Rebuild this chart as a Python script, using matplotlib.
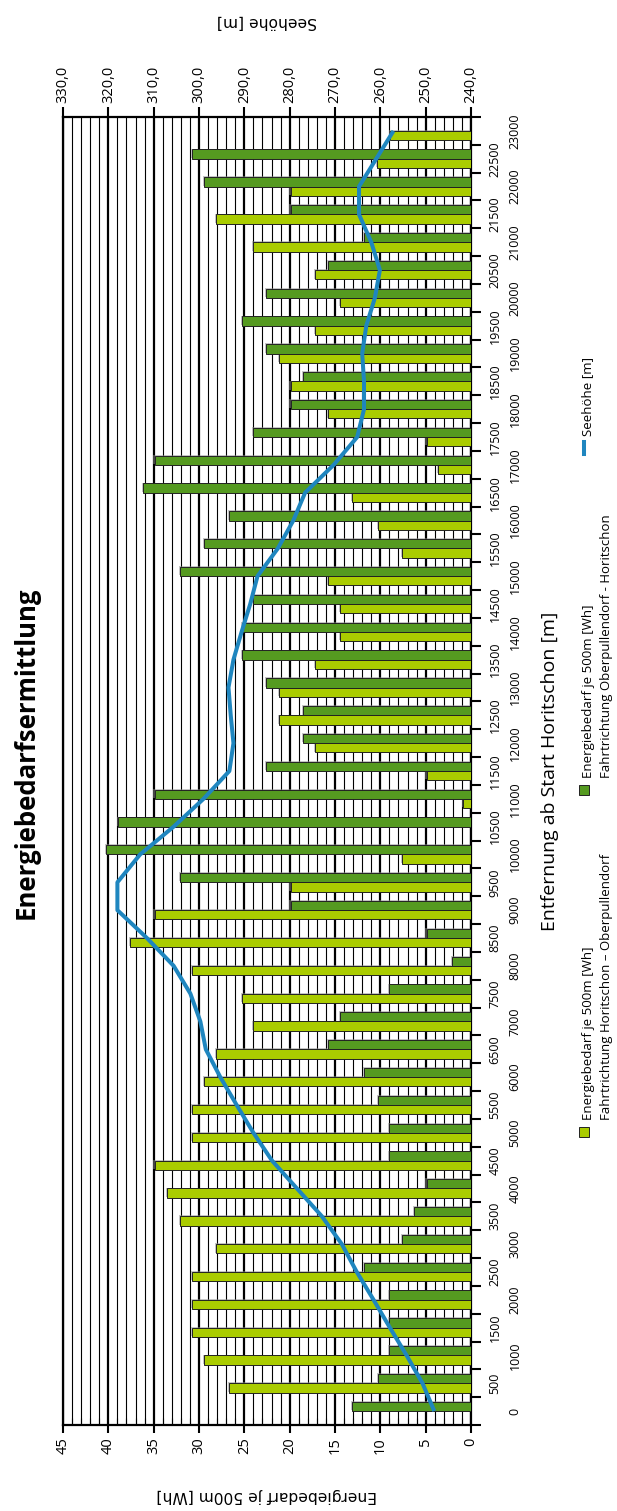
import numpy as np
import matplotlib
matplotlib.use("Agg")
import matplotlib.pyplot as plt
import matplotlib.patheffects as pe
import matplotlib.transforms as mtransforms
from matplotlib.ticker import MultipleLocator, FixedLocator, FuncFormatter, NullFormatter
from matplotlib.patches import Rectangle
from matplotlib.lines import Line2D

plt.rcParams['font.family'] = ['Open Sans', 'DejaVu Sans']

# Distance from the start in Horitschon [m]
distance_m = [0, 500, 1000, 1500, 2000, 2500, 3000, 3500, 4000, 4500,
              5000, 5500, 6000, 6500, 7000, 7500, 8000, 8500, 9000, 9500,
              10000, 10500, 11000, 11500, 12000, 12500, 13000, 13500, 14000, 14500,
              15000, 15500, 16000, 16500, 17000, 17500, 18000, 18500, 19000, 19500,
              20000, 20500, 21000, 21500, 22000, 22500, 23000]

# Energy demand per 500 m [Wh], direction Horitschon -> Oberpullendorf
energy_ho_op = [0.0, 26.7, 29.4, 30.8, 30.8, 30.8, 28.1, 32.1, 33.5, 34.9,
                30.8, 30.8, 29.4, 28.1, 24.0, 25.3, 30.8, 37.6, 34.9, 19.9,
                7.6, 0.0, 0.85, 4.9, 17.2, 21.2, 21.2, 17.2, 14.4, 14.4,
                15.8, 7.6, 10.3, 13.1, 3.6, 4.9, 15.8, 19.9, 21.2, 17.2,
                14.4, 17.2, 24.0, 28.1, 19.9, 10.4, 8.9]

# Energy demand per 500 m [Wh], direction Oberpullendorf -> Horitschon
energy_op_ho = [13.1, 10.3, 9.0, 9.0, 9.0, 11.8, 7.6, 6.3, 4.9, 9.0,
                9.0, 10.3, 11.8, 15.8, 14.4, 9.0, 2.1, 4.9, 19.9, 32.1,
                40.3, 38.9, 34.9, 22.6, 18.5, 18.5, 22.6, 25.3, 25.3, 24.0,
                32.1, 29.4, 26.7, 36.2, 34.9, 24.0, 19.9, 18.5, 22.6, 25.3,
                22.6, 15.8, 11.8, 19.9, 29.4, 30.8, 0.0]

# Elevation above sea level [m]
elevation_m = [248.1, 250.7, 254.2, 257.9, 261.5, 265.2, 268.5, 272.9, 278.4, 283.9,
               288.0, 291.7, 295.3, 298.5, 299.7, 301.9, 305.6, 311.5, 318.0, 318.0,
               313.0, 305.6, 299.0, 293.3, 292.4, 293.0, 293.5, 292.4, 290.6, 288.7,
               287.1, 282.6, 279.2, 276.6, 270.3, 265.1, 263.6, 263.6, 264.0, 263.1,
               261.2, 260.1, 262.0, 264.7, 264.7, 260.9, 257.1]

LIGHT = '#AACC00'
DARK = '#559A20'
BLUE = '#1F86BF'
EDGE = '#222222'

W, H = 617, 1511
fig = plt.figure(figsize=(W / 100, H / 100), dpi=100)


def fx(px):
    return px / W


def fy(py):
    return 1 - py / H


# Main axes: distance runs upward, energy grows to the left
ax = fig.add_axes([fx(63), fy(1425), 408 / W, 1308 / H])
pos = np.arange(len(distance_m))
bar_h = 1 / 3

shadow = [pe.SimplePatchShadow(offset=(-0.8, 0.6), shadow_rgbFace='0.55', alpha=0.5), pe.Normal()]
b1 = ax.barh(pos - bar_h / 2, energy_ho_op, height=bar_h, color=LIGHT,
             edgecolor=EDGE, linewidth=0.7, zorder=3)
b2 = ax.barh(pos + bar_h / 2, energy_op_ho, height=bar_h, color=DARK,
             edgecolor=EDGE, linewidth=0.7, zorder=3)
for bar in list(b1) + list(b2):
    bar.set_path_effects(shadow)

ax.set_xlim(45, 0)
ax.set_ylim(-0.5, len(distance_m) - 0.5)
ax.set_axisbelow(True)

ax.xaxis.set_major_locator(MultipleLocator(5))
ax.xaxis.set_minor_locator(MultipleLocator(1))
ax.xaxis.set_major_formatter(FuncFormatter(lambda v, p: f"{v:.0f}"))
ax.grid(which='major', axis='x', color='black', linewidth=1.6, zorder=0)
ax.grid(which='minor', axis='x', color='black', linewidth=0.8, zorder=0)
ax.tick_params(axis='x', which='major', direction='out', length=6, width=1.5,
               labelsize=10.5, labelrotation=90, pad=3)
ax.tick_params(axis='x', which='minor', direction='in', length=5, width=0.8)

ax.yaxis.tick_right()
ax.yaxis.set_major_locator(FixedLocator(np.arange(-0.5, len(distance_m), 1.0)))
ax.yaxis.set_major_formatter(NullFormatter())
ax.tick_params(axis='y', which='major', direction='out', length=7, width=1.5,
               left=False, right=True)

for side in ('left', 'right', 'bottom'):
    ax.spines[side].set_linewidth(1.6)
    ax.spines[side].set_color('black')
ax.spines['top'].set_visible(False)

# Staggered distance labels beside the category axis
lab_tr = mtransforms.blended_transform_factory(fig.transFigure, ax.transData)
for i, d in enumerate(distance_m):
    xpix = 495 if i % 2 else 515
    ax.text(fx(xpix), i, str(d), transform=lab_tr, rotation=90,
            ha='center', va='center', fontsize=9, clip_on=False)

# Secondary axis: elevation profile
ax2 = ax.twiny()
ax2.set_xlim(330, 240)
ax2.plot(elevation_m, pos, color=BLUE, linewidth=2.9, solid_joinstyle='round',
         solid_capstyle='butt', zorder=5)
ax2.xaxis.set_major_locator(MultipleLocator(10))
ax2.xaxis.set_major_formatter(FuncFormatter(lambda v, p: f"{v:.1f}".replace('.', ',')))
ax2.tick_params(axis='x', which='major', direction='out', length=7, width=1.5,
                labelsize=10.5, labelrotation=90, pad=3, top=True, labeltop=True)
for side in ('left', 'right', 'bottom'):
    ax2.spines[side].set_visible(False)
ax2.spines['top'].set_linewidth(1.6)

# Titles
fig.text(fx(26), fy(753), "Energiebedarfsermittlung", rotation=90,
         ha='center', va='center', fontsize=18.5, fontweight='bold')
fig.text(fx(550), fy(771), "Entfernung ab Start Horitschon [m]", rotation=90,
         ha='center', va='center', fontsize=14)
fig.text(fx(267), fy(1496), "Energiebedarf je 500m [Wh]", rotation=180,
         ha='center', va='center', fontsize=11.2, family='DejaVu Sans')
fig.text(fx(267), fy(22), "Seehöhe [m]", rotation=180,
         ha='center', va='center', fontsize=11.2, family='DejaVu Sans')

# Legend
legend_items = [
    ('bar', LIGHT, 1132, "Energiebedarf je 500m [Wh]\nFahrtrichtung Horitschon – Oberpullendorf"),
    ('bar', DARK, 790, "Energiebedarf je 500m [Wh]\nFahrtrichtung Oberpullendorf - Horitschon"),
    ('line', BLUE, 448, "Seehöhe [m]"),
]
for kind, col, ypix, label in legend_items:
    if kind == 'bar':
        fig.add_artist(Rectangle((fx(578.5), fy(ypix + 5)), 10 / W, 10 / H,
                                 transform=fig.transFigure, facecolor=col,
                                 edgecolor=EDGE, linewidth=0.7))
    else:
        fig.add_artist(Line2D([fx(583.5), fx(583.5)], [fy(ypix + 6), fy(ypix - 6)],
                              transform=fig.transFigure, color=col, linewidth=2.9))
    tx = 597.5 if '\n' in label else 588
    fig.text(fx(tx), fy(ypix - 12), label, rotation=90, ha='center', va='bottom',
             fontsize=9.5, multialignment='left', linespacing=1.5)

fig.savefig('out.png', dpi=100, facecolor='white')
